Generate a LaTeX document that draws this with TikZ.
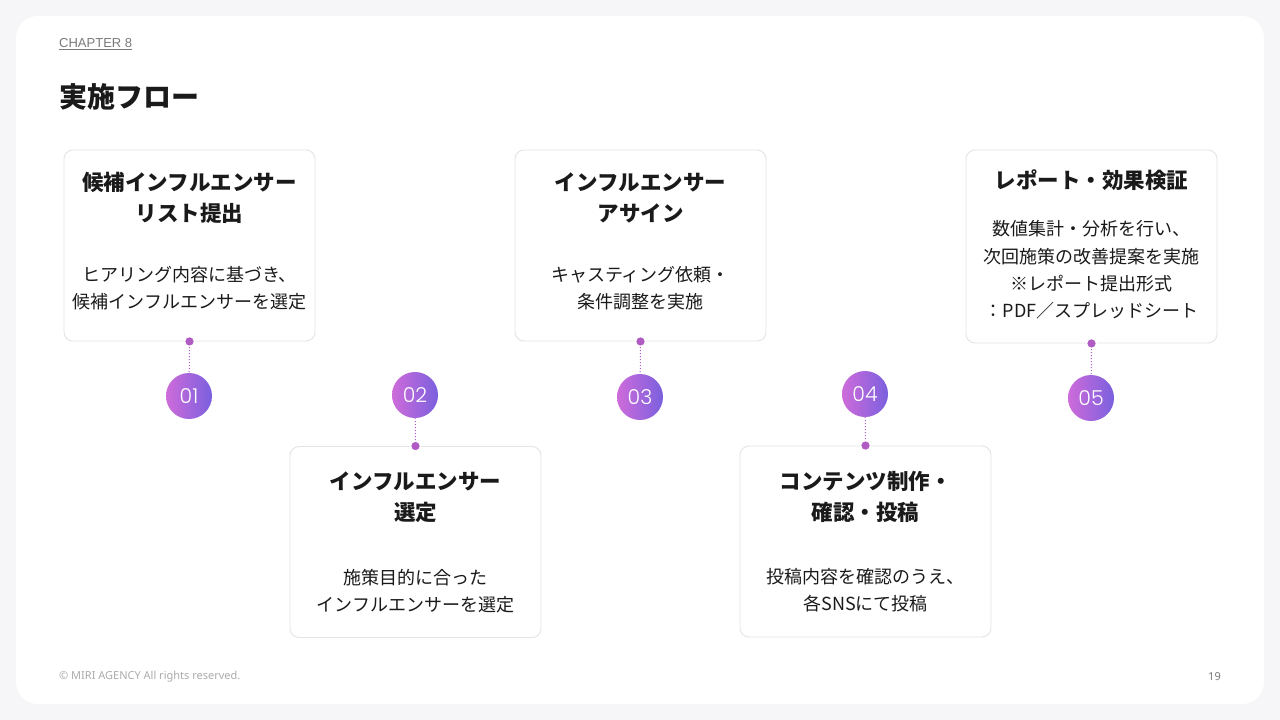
\documentclass[tikz,border=0pt]{standalone}
\usepackage{fontspec}
\setmainfont{Noto Sans CJK JP}
\newfontfamily\latinfont{Noto Sans}
\newfontfamily\headfont{Liberation Sans}
\IfFontExistsTF{Poppins Light}{\newfontfamily\numfont{Poppins Light}}{\newfontfamily\numfont{Poppins}}
\usetikzlibrary{shadings}
\definecolor{bgout}{HTML}{F6F6F8}
\definecolor{cardline}{HTML}{E4E4E8}
\definecolor{gradL}{HTML}{CE6BDA}
\definecolor{gradR}{HTML}{7A60DE}
\definecolor{dotc}{HTML}{B05AC4}
\definecolor{headgray}{HTML}{7A7A7A}
\definecolor{footgray}{HTML}{ABABAB}
\definecolor{txt}{HTML}{1A1A1A}
\tikzset{
  card/.style={draw=cardline, line width=0.9pt, fill=white, rounded corners=9pt,
    minimum width=251pt, minimum height=191pt, inner sep=0pt},
  ttl/.style={align=center, text=txt, font=\fontsize{21.5}{31}\selectfont\bfseries, inner sep=0pt},
  desc/.style={align=center, text=txt, font=\fontsize{18}{27.3}\selectfont, inner sep=0pt},
  num/.style={circle, minimum size=46pt, inner sep=0pt, left color=gradL, right color=gradR,
    text=white, font=\numfont\fontsize{20.5}{20.5}\selectfont},
  pin/.style={circle, fill=dotc, draw=white, line width=1.4pt, minimum size=10pt, inner sep=0pt},
  link/.style={draw=dotc, line width=1pt, dotted},
}
\begin{document}
\begin{tikzpicture}[x=1pt,y=-1pt]
\fill[bgout] (0,0) rectangle (1280,720);
\useasboundingbox (0,0) rectangle (1280,720);
\fill[white, rounded corners=22pt] (16,16) rectangle (1264,704);

\node[anchor=west, inner sep=0pt, text=headgray, font=\headfont\fontsize{13}{13}\selectfont] (chap) at (59,44) {\underline{CHAPTER 8}};
\node[anchor=west, inner sep=0pt, text=txt, font=\fontsize{28}{28}\selectfont\bfseries] (title) at (59,97) {実施フロー};

% cards
\node[card] (c1) at (189.5,245.5) {};
\node[card] (c2) at (415.5,542) {};
\node[card] (c3) at (640.5,245.5) {};
\node[card] (c4) at (865.5,541.5) {};
\node[card, minimum height=193pt] (c5) at (1091.5,246.5) {};

% card texts
\node[ttl] (t1) at (189.5,198) {候補インフルエンサー\\リスト提出};
\node[desc] (d1) at (189.5,288.5) {ヒアリング内容に基づき、\\候補インフルエンサーを選定};
\node[ttl] (t2) at (415.5,497.5) {インフルエンサー\\選定};
\node[desc] (d2) at (415.5,591) {施策目的に合った\\インフルエンサーを選定};
\node[ttl] (t3) at (640.5,198) {インフルエンサー\\アサイン};
\node[desc] (d3) at (640.5,288.5) {キャスティング依頼・\\条件調整を実施};
\node[ttl] (t4) at (865.5,496.5) {コンテンツ制作・\\確認・投稿};
\node[desc] (d4) at (865.5,590.5) {投稿内容を確認のうえ、\\各SNSにて投稿};
\node[ttl] (t5) at (1091.5,180) {レポート・効果検証};
\node[desc] (d5) at (1091.5,270) {数値集計・分析を行い、\\次回施策の改善提案を実施\\※レポート提出形式\\：PDF／スプレッドシート};

% number circles
\node[num] (n1) at (189,396) {01};
\node[num] (n2) at (415,395) {02};
\node[num] (n3) at (640,397) {03};
\node[num] (n4) at (865,394) {04};
\node[num] (n5) at (1091,398) {05};

% pins
\node[pin] (p1) at (c1.south) {};
\node[pin] (p2) at (c2.north) {};
\node[pin] (p3) at (c3.south) {};
\node[pin] (p4) at (c4.north) {};
\node[pin] (p5) at (c5.south) {};

\draw[link] (p1) -- (n1);
\draw[link] (n2) -- (p2);
\draw[link] (p3) -- (n3);
\draw[link] (n4) -- (p4);
\draw[link] (p5) -- (n5);

% footer
\node[anchor=west, inner sep=0pt, text=footgray, font=\latinfont\fontsize{11}{11}\selectfont] (foot) at (59,677) {© MIRI AGENCY All rights reserved.};
\node[anchor=east, inner sep=0pt, text=headgray, font=\latinfont\fontsize{11}{11}\selectfont] (page) at (1221,677) {19};
\end{tikzpicture}
\end{document}
